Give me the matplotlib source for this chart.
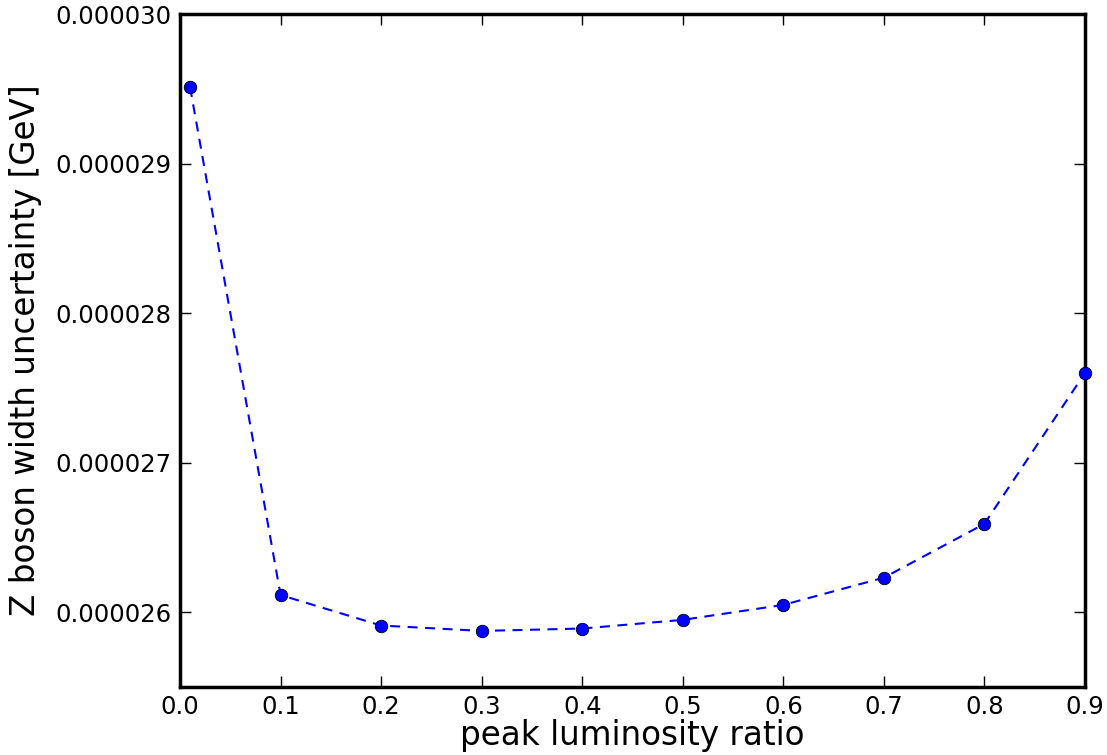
import matplotlib
matplotlib.use("Agg")
import matplotlib.pyplot as plt
from matplotlib.ticker import FormatStrFormatter, MultipleLocator

# data
peak_ratio = [0.01, 0.1, 0.2, 0.3, 0.4, 0.5, 0.6, 0.7, 0.8, 0.9]
width_unc = [29.511e-6, 26.115e-6, 25.911e-6, 25.875e-6, 25.891e-6,
             25.949e-6, 26.049e-6, 26.231e-6, 26.591e-6, 27.600e-6]
x_label = "peak luminosity ratio"
y_label = "Z boson width uncertainty [GeV]"

plt.rcParams['font.family'] = ['DejaVu Sans']
fig = plt.figure(figsize=(11.07, 7.55), dpi=100)
ax = fig.add_axes([180/1107, 68/755, (1085-180)/1107, (687-14)/755])

ax.plot(peak_ratio, width_unc, linestyle='--', color='blue', linewidth=1.5,
        dashes=(4.8, 3.6), marker='o', markersize=9, markerfacecolor='blue',
        markeredgecolor='black', markeredgewidth=0.6, clip_on=False, zorder=3)

ax.set_xlim(0.0, 0.9)
ax.set_ylim(25.5e-6, 30e-6)
ax.xaxis.set_major_locator(MultipleLocator(0.1))
ax.yaxis.set_major_locator(MultipleLocator(1e-6))
ax.xaxis.set_major_formatter(FormatStrFormatter('%.1f'))
ax.yaxis.set_major_formatter(FormatStrFormatter('%.6f'))

for s in ax.spines.values():
    s.set_linewidth(2.5)
ax.tick_params(direction='in', top=True, right=True, length=8, width=1,
               labelsize=17.5, pad=6)

ax.set_xlabel(x_label, fontsize=23.5, labelpad=0)
ax.set_ylabel(y_label, fontsize=23.5, labelpad=10)

fig.savefig("out.png", dpi=100)
